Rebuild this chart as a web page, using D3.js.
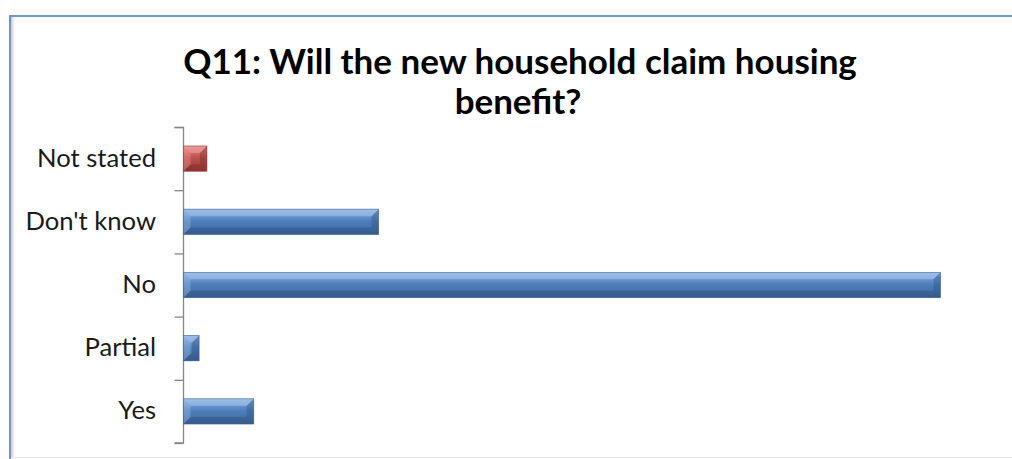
<!DOCTYPE html>
<html><head><meta charset="utf-8">
<script src="https://cdn.jsdelivr.net/npm/d3@7"></script>
<style>html,body{margin:0;padding:0;background:#fff;overflow:hidden}</style>
</head><body>
<svg id="c" width="1012" height="459"></svg>
<script>
const titleLines = ["Q11: Will the new household claim housing", "benefit?"];
const categories = ["Not stated", "Don't know", "No", "Partial", "Yes"];
const values = [3, 25, 97, 2, 9];
const barColors = ["red", "blue", "blue", "blue", "blue"];

const svg = d3.select("#c");
const defs = svg.append("defs");
const palettes = {
  blue: {top: "#8fb4e3", mid: "#4f81bd", bot: "#3d659a", light: "#a9c6ec", dark: "#2f5180", edge: "#3a6090"},
  red: {top: "#e88b88", mid: "#c0504d", bot: "#9c3a38", light: "#f0a3a0", dark: "#7e2b29", edge: "#943634"}
};
Object.entries(palettes).forEach(([k, p]) => {
  const g = defs.append("linearGradient").attr("id", "g-" + k).attr("x1", 0).attr("y1", 0).attr("x2", 0).attr("y2", 1);
  g.append("stop").attr("offset", "0%").attr("stop-color", p.top);
  g.append("stop").attr("offset", "45%").attr("stop-color", p.mid);
  g.append("stop").attr("offset", "100%").attr("stop-color", p.bot);
});
const sh = defs.append("linearGradient").attr("id", "shadowL").attr("x1", 0).attr("x2", 1);
sh.append("stop").attr("offset", "0%").attr("stop-color", "#c8c8c8");
sh.append("stop").attr("offset", "100%").attr("stop-color", "#ffffff").attr("stop-opacity", 0);

// frame
svg.append("rect").attr("x", 11).attr("y", 17).attr("width", 6).attr("height", 440).attr("fill", "url(#shadowL)");
svg.append("line").attr("x1", 10).attr("x2", 10).attr("y1", 15.5).attr("y2", 459).attr("stroke", "#7096cc").attr("stroke-width", 2);
svg.append("line").attr("x1", 9).attr("x2", 1012).attr("y1", 16).attr("y2", 16).attr("stroke", "#7096cc").attr("stroke-width", 2);
svg.append("line").attr("x1", 11).attr("x2", 1012).attr("y1", 457.5).attr("y2", 457.5).attr("stroke", "#e6e6e6").attr("stroke-width", 1);

// title
const fitText = (sel, target) => {
  let fs = parseFloat(sel.attr("font-size"));
  const w = sel.node().getComputedTextLength();
  sel.attr("font-size", fs * target / w);
};
const t1 = svg.append("text").attr("x", 520).attr("y", 74).attr("text-anchor", "middle")
  .attr("font-family", "Lato, 'Open Sans', sans-serif").attr("font-weight", "bold").attr("font-size", 30)
  .attr("fill", "#000").text(titleLines[0]);
fitText(t1, 674);
const fs1 = t1.attr("font-size");
svg.append("text").attr("x", 518).attr("y", 114).attr("text-anchor", "middle")
  .attr("font-family", "Lato, 'Open Sans', sans-serif").attr("font-weight", "bold").attr("font-size", fs1)
  .attr("fill", "#000").text(titleLines[1]);

// scales
const x0 = 183.5;
const x = d3.scaleLinear().domain([0, 97]).range([x0, 940.5]);
const y = d3.scaleBand().domain(categories).range([127, 443]).paddingInner(0.6).paddingOuter(0.3);

// axis
const yAxis = d3.axisLeft(d3.scaleLinear().domain([0, categories.length]).range([127, 443]))
  .ticks(categories.length).tickValues(d3.range(categories.length + 1)).tickSize(9).tickFormat("");
const ax = svg.append("g").attr("transform", `translate(${x0},0)`).call(yAxis);
ax.selectAll("path,line").attr("stroke", "#878787").attr("stroke-width", 1.3);
ax.select("path.domain").attr("d", "M-9,127.5H0V443H-9");

// labels
const labelSel = svg.append("g").selectAll("text").data(categories).join("text")
  .attr("x", 156).attr("y", d => y(d) + y.bandwidth() / 2 + 8)
  .attr("text-anchor", "end").attr("font-family", "Lato, 'Open Sans', sans-serif")
  .attr("font-size", 22).attr("fill", "#1a1a1a").text(d => d);
// fit "Not stated" to ~119px
const ref = labelSel.filter(d => d === "Not stated").node().getComputedTextLength();
labelSel.attr("font-size", 22 * 119 / ref);

// bars
const bars = svg.append("g").selectAll("g").data(categories.map((c, i) => ({c, v: values[i], col: barColors[i]}))).join("g");
bars.each(function(d) {
  const g = d3.select(this);
  const p = palettes[d.col];
  const xa = x(0), xb = x(d.v), ya = y(d.c), yb = y(d.c) + y.bandwidth();
  const w = xb - xa, h = yb - ya;
  const b = Math.min(7, h / 3, w / 2);
  g.append("rect").attr("x", xa).attr("y", ya).attr("width", w).attr("height", h).attr("fill", `url(#g-${d.col})`);
  // top bevel
  g.append("polygon").attr("points", [[xa, ya], [xb, ya], [xb - b, ya + b], [xa + b, ya + b]].join(" "))
    .attr("fill", p.light).attr("opacity", 0.55);
  // bottom bevel
  g.append("polygon").attr("points", [[xa, yb], [xb, yb], [xb - b, yb - b], [xa + b, yb - b]].join(" "))
    .attr("fill", p.dark).attr("opacity", 0.45);
  // left bevel
  g.append("polygon").attr("points", [[xa, ya], [xa + b, ya + b], [xa + b, yb - b], [xa, yb]].join(" "))
    .attr("fill", p.light).attr("opacity", 0.35);
  // right bevel
  g.append("polygon").attr("points", [[xb, ya], [xb - b, ya + b], [xb - b, yb - b], [xb, yb]].join(" "))
    .attr("fill", p.dark).attr("opacity", 0.4);
  g.append("rect").attr("x", xa).attr("y", ya).attr("width", w).attr("height", h)
    .attr("fill", "none").attr("stroke", p.edge).attr("stroke-width", 0.8).attr("stroke-opacity", 0.7);
});
</script>
</body></html>
